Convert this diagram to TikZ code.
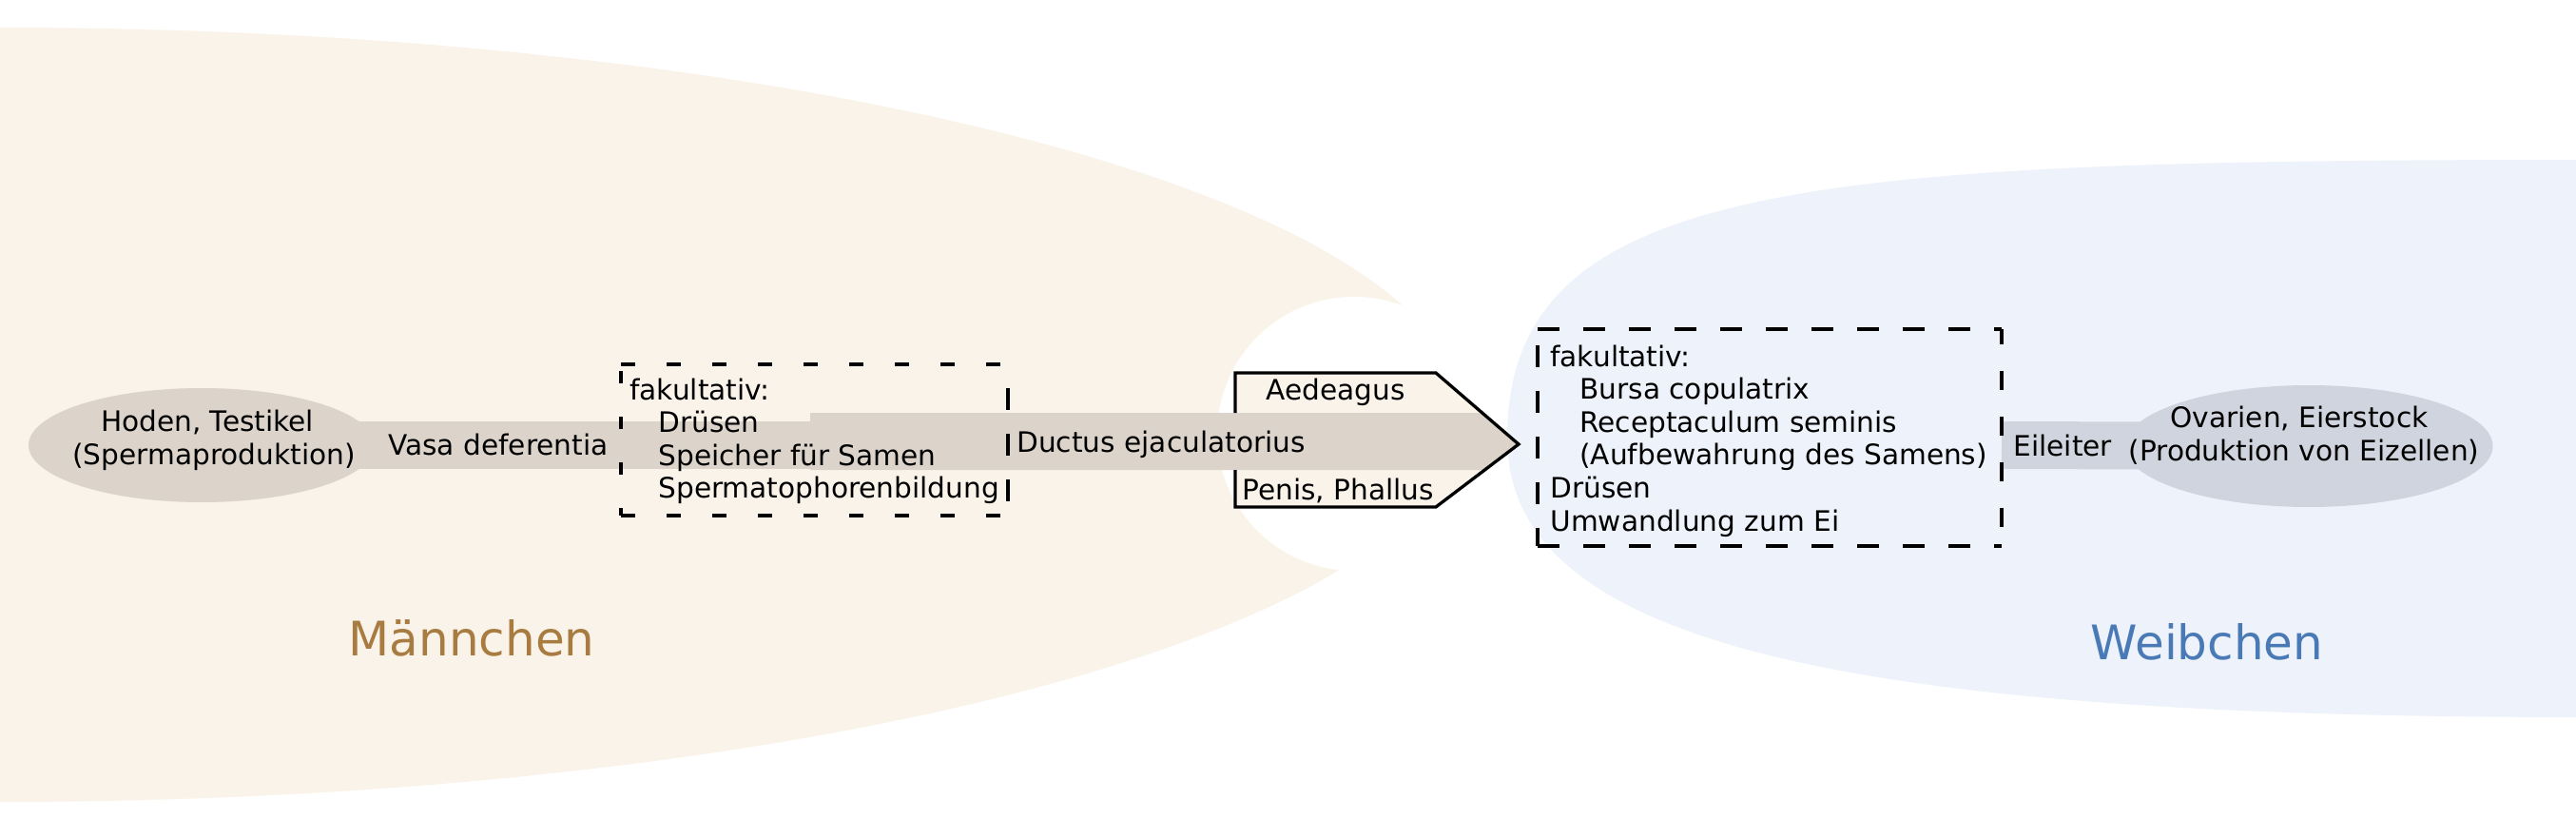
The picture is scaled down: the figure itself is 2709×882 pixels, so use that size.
\documentclass[tikz,border=0pt]{standalone}
\usepackage{fontspec}
\setmainfont{DejaVu Sans}
\usetikzlibrary{shapes.geometric}

\definecolor{mcream}{HTML}{FAF3EA}
\definecolor{fblue}{HTML}{EDF2FB}
\definecolor{mduct}{HTML}{DCD4CB}
\definecolor{fduct}{HTML}{D0D4DE}
\definecolor{mlabel}{HTML}{A87C40}
\definecolor{flabel}{HTML}{4A7AB6}

\begin{document}
\begin{tikzpicture}[x=0.5pt,y=-0.5pt,
        txt/.style={font=\fontsize{14.8}{17.3}\selectfont, inner sep=0pt},
        sex/.style={font=\fontsize{25}{30}\selectfont, inner sep=0pt},
        organ/.style={ellipse, inner sep=0pt},
        optline/.style={line width=1.8pt, dash pattern=on 11.5pt off 12.5pt}]

        \useasboundingbox (0,0) rectangle (2709,882);

        % backgrounds
        \begin{scope}
          \clip (0,0) rectangle (2709,882);
          \fill[mcream] (0,436) ellipse (1537 and 407);
          \fill[white] (1424,456) circle (144);
          \fill[fblue] (2720,168) .. controls (1900,168) and (1585,190) .. (1585,461)
                       .. controls (1585,680) and (1950,754) .. (2720,754) -- cycle;
        \end{scope}

        % organs and ducts
        \node[organ, fill=mduct, minimum width=182pt, minimum height=60pt] (hoden) at (212,468) {};
        \node[organ, fill=fduct, minimum width=193.5pt, minimum height=64pt] (ovar) at (2428,469) {};
        \coordinate (vasa end) at (852,468);
        \coordinate (box2 east) at (2105,468);
        \draw[mduct, line width=25pt] (hoden.center) -- (vasa end);
        \draw[fduct, line width=25pt] (box2 east) -- (ovar.center);

        \fill[mcream] (1299,392) -- (1510,392) -- (1597,467) -- (1510,533) -- (1299,533) -- cycle;
        \fill[mduct] (852,434) -- (1559,434) -- (1597,467) -- (1561,494) -- (852,494) -- cycle;
        \draw[line width=1.65pt] (1299,434) -- (1299,392) -- (1510,392) -- (1597,467)
                                 -- (1510,533) -- (1299,533) -- (1299,494);

        % optional parts
        \draw[optline, dash pattern=on 7.5pt off 16.5pt] (653,383) -- (1060,383) (653,542) -- (1060,542);
        \draw[optline, dash pattern=on 6.5pt off 17.5pt, dash phase=20.5pt] (653,383) -- (653,542);
        \draw[optline, dash phase=11.5pt] (1060,383) -- (1060,542);
        \draw[optline] (1617,346) -- (2105,346) (1617,574) -- (2105,574);
        \draw[optline, dash phase=15.5pt] (1617,346) -- (1617,574);
        \draw[optline, dash pattern=on 10pt off 14pt, dash phase=2pt] (2105,346) -- (2105,574);

        % texts
        \node[txt, anchor=base] (hoden l1) at (218,453) {Hoden, Testikel};
        \node[txt, anchor=base] (hoden l2) at (225,488) {(Spermaproduktion)};
        \node[txt, anchor=base west] (vasa) at (408,478) {Vasa deferentia};
        \foreach \txt/\dx [count=\i] in {fakultativ:/0, Drüsen/30, Speicher für Samen/30, Spermatophorenbildung/30}
          \node[txt, anchor=base west] (mopt \i) at (662+\dx,385.5+34.5*\i) {\txt};
        \node[txt, anchor=base west] (ductus) at (1069,475) {Ductus ejaculatorius};
        \node[txt, anchor=base west] (aedeagus) at (1331,420) {Aedeagus};
        \node[txt, anchor=base west] (penis) at (1306,525) {Penis, Phallus};
        \foreach \txt/\dx [count=\i] in {fakultativ:/0, Bursa copulatrix/31, Receptaculum seminis/31,
                                         (Aufbewahrung des Samens)/31, Drüsen/0, Umwandlung zum Ei/0}
          \node[txt, anchor=base west] (fopt \i) at (1630+\dx,350.4+34.6*\i) {\txt};
        \node[txt, anchor=base west] (eileiter) at (2117,479) {Eileiter};
        \node[txt, anchor=base] (ovar l1) at (2418,449) {Ovarien, Eierstock};
        \node[txt, anchor=base] (ovar l2) at (2423,484) {(Produktion von Eizellen)};

        \node[sex, mlabel, anchor=base] (maennchen) at (496,689) {Männchen};
        \node[sex, flabel, anchor=base] (weibchen) at (2321,693) {Weibchen};

\end{tikzpicture}
\end{document}
